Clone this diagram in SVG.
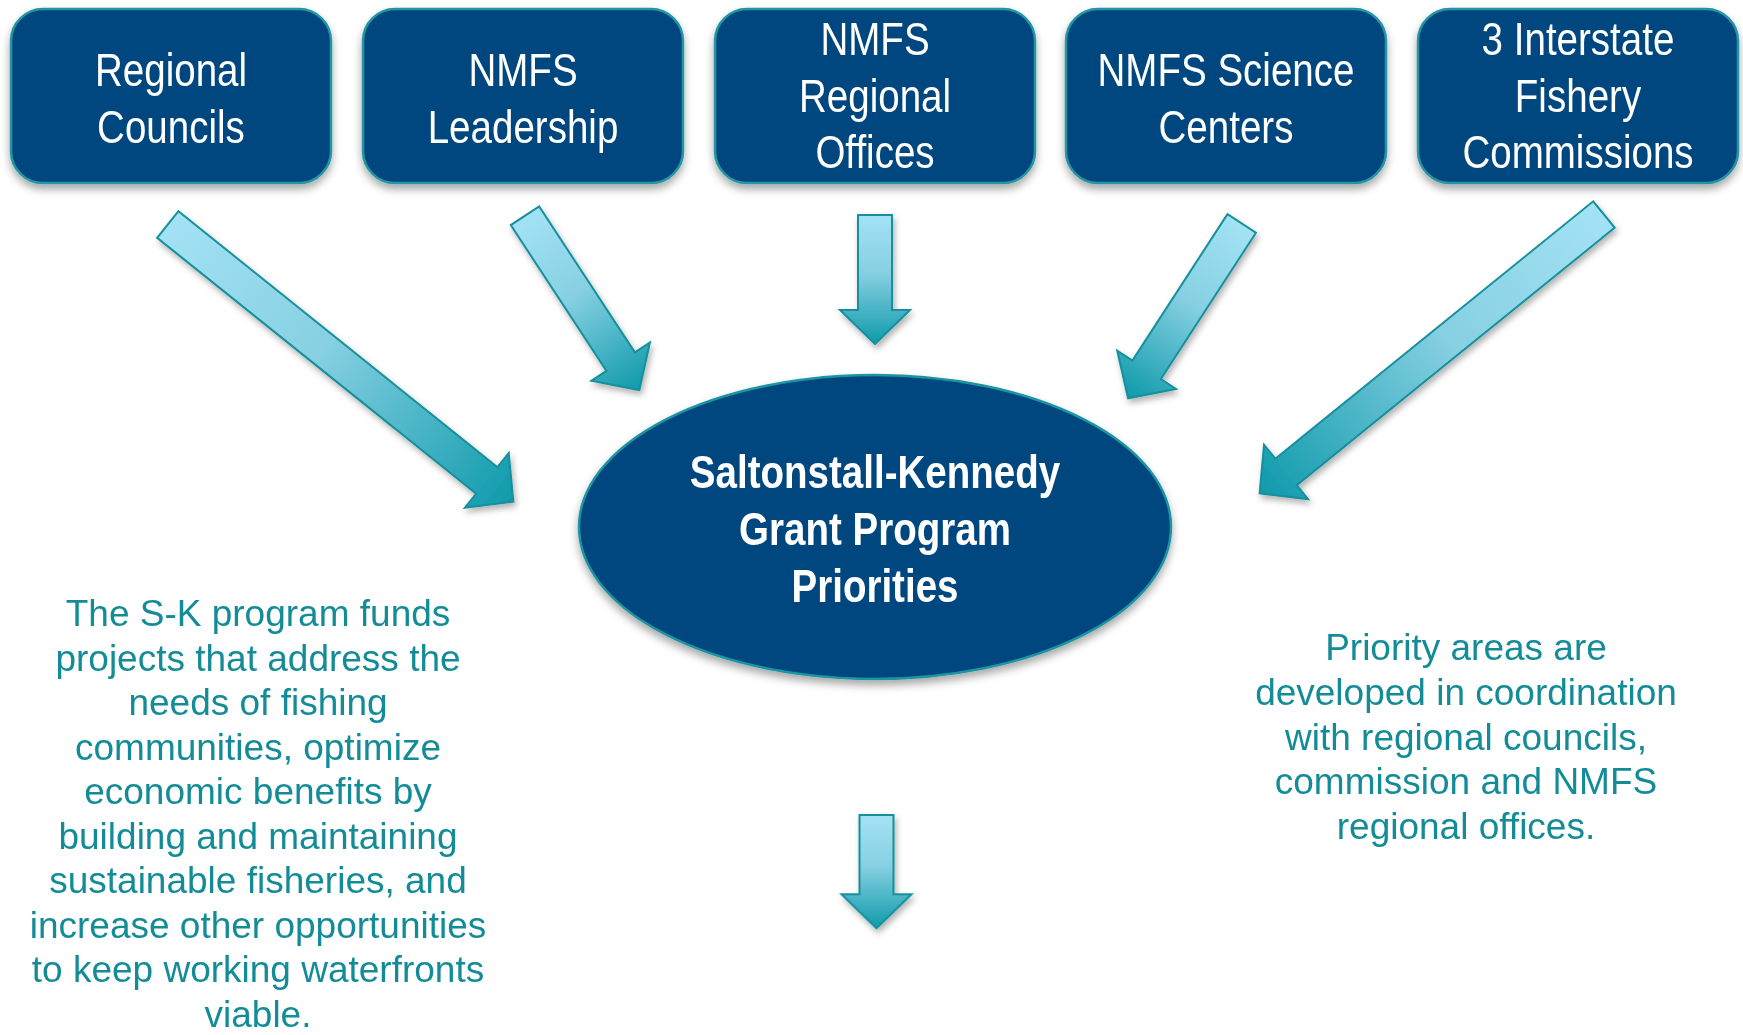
<svg xmlns="http://www.w3.org/2000/svg" width="1743" height="1035" viewBox="0 0 1743 1035">
<defs>
<style>
.box{fill:#03477f;stroke:#2196a3;stroke-width:2.5}
.bt{font-family:"Liberation Sans",Arial,sans-serif;font-size:47px;fill:#ffffff;text-anchor:middle}
.et{font-family:"Liberation Sans",Arial,sans-serif;font-size:47px;font-weight:bold;fill:#ffffff;text-anchor:middle}
.note{font-family:"Liberation Sans",Arial,sans-serif;font-size:37px;fill:#138c97;text-anchor:middle}
.arr{fill:url(#ag);stroke:#14909c;stroke-width:2;stroke-linejoin:miter}
</style>
<linearGradient id="ag" x1="0" y1="0" x2="1" y2="0">
<stop offset="0" stop-color="#a3e2f4"/>
<stop offset="0.45" stop-color="#86d0e2"/>
<stop offset="1" stop-color="#0f9aab"/>
</linearGradient>
<filter id="sh" x="-20%" y="-20%" width="140%" height="150%">
<feDropShadow dx="0" dy="5" stdDeviation="4" flood-color="#000" flood-opacity="0.35"/>
</filter>
<filter id="ash" x="-20%" y="-30%" width="140%" height="160%">
<feDropShadow dx="2" dy="4" stdDeviation="3" flood-color="#000" flood-opacity="0.3"/>
</filter>
</defs>
<rect width="1743" height="1035" fill="#ffffff"/>

<g id="connectors" filter="url(#ash)">
<polygon class="arr" transform="translate(167.8,224.5) rotate(38.74)" points="0,-17 409,-17 409,-35 443,0 409,35 409,17 0,17"/>
<polygon class="arr" transform="translate(525,215.8) rotate(56.73)" points="0,-17 174.4,-17 174.4,-35 208.4,0 174.4,35 174.4,17 0,17"/>
<polygon class="arr" transform="translate(875,215) rotate(90)" points="0,-17 95,-17 95,-35 129,0 95,35 95,17 0,17"/>
<polygon class="arr" transform="translate(1241.7,223.5) rotate(123.02)" points="0,-17 174.5,-17 174.5,-35 208.5,0 174.5,35 174.5,17 0,17"/>
<polygon class="arr" transform="translate(1603.9,214.5) rotate(141)" points="0,-17 409,-17 409,-35 443,0 409,35 409,17 0,17"/>
<polygon class="arr" transform="translate(876.5,815) rotate(90)" points="0,-17 79.3,-17 79.3,-35 113.3,0 79.3,35 79.3,17 0,17"/>
</g>

<g id="regional-councils">
<rect class="box" x="11" y="9" width="320" height="174" rx="32" filter="url(#sh)"/>
<text class="bt" transform="translate(171,86) scale(0.82,1)">Regional</text>
<text class="bt" transform="translate(171,143) scale(0.82,1)">Councils</text>
</g>
<g id="nmfs-leadership">
<rect class="box" x="363" y="9" width="320" height="174" rx="32" filter="url(#sh)"/>
<text class="bt" transform="translate(523,86) scale(0.82,1)">NMFS</text>
<text class="bt" transform="translate(523,143) scale(0.82,1)">Leadership</text>
</g>
<g id="nmfs-regional-offices">
<rect class="box" x="715" y="9" width="320" height="174" rx="32" filter="url(#sh)"/>
<text class="bt" transform="translate(875,55) scale(0.82,1)">NMFS</text>
<text class="bt" transform="translate(875,111.5) scale(0.82,1)">Regional</text>
<text class="bt" transform="translate(875,168) scale(0.82,1)">Offices</text>
</g>
<g id="nmfs-science-centers">
<rect class="box" x="1066" y="9" width="320" height="174" rx="32" filter="url(#sh)"/>
<text class="bt" transform="translate(1226,86) scale(0.82,1)">NMFS Science</text>
<text class="bt" transform="translate(1226,143) scale(0.82,1)">Centers</text>
</g>
<g id="interstate-commissions">
<rect class="box" x="1418" y="9" width="320" height="174" rx="32" filter="url(#sh)"/>
<text class="bt" transform="translate(1578,55) scale(0.82,1)">3 Interstate</text>
<text class="bt" transform="translate(1578,111.5) scale(0.82,1)">Fishery</text>
<text class="bt" transform="translate(1578,168) scale(0.82,1)">Commissions</text>
</g>

<g id="sk-priorities">
<ellipse cx="875" cy="527" rx="296" ry="152" fill="#03477f" stroke="#1e95a2" stroke-width="2.5" filter="url(#sh)"/>
<text class="et" transform="translate(875,488) scale(0.82,1)">Saltonstall-Kennedy</text>
<text class="et" transform="translate(875,545) scale(0.82,1)">Grant Program</text>
<text class="et" transform="translate(875,602) scale(0.82,1)">Priorities</text>
</g>

<g id="left-note">
<text class="note" x="258" y="626">The S-K program funds</text>
<text class="note" x="258" y="670.5">projects that address the</text>
<text class="note" x="258" y="715">needs of fishing</text>
<text class="note" x="258" y="759.5">communities, optimize</text>
<text class="note" x="258" y="804">economic benefits by</text>
<text class="note" x="258" y="848.5">building and maintaining</text>
<text class="note" x="258" y="893">sustainable fisheries, and</text>
<text class="note" x="258" y="937.5">increase other opportunities</text>
<text class="note" x="258" y="982">to keep working waterfronts</text>
<text class="note" x="258" y="1026.5">viable.</text>
</g>

<g id="right-note">
<text class="note" x="1466" y="660">Priority areas are</text>
<text class="note" x="1466" y="704.8">developed in coordination</text>
<text class="note" x="1466" y="749.6">with regional councils,</text>
<text class="note" x="1466" y="794.4">commission and NMFS</text>
<text class="note" x="1466" y="839.2">regional offices.</text>
</g>
</svg>
